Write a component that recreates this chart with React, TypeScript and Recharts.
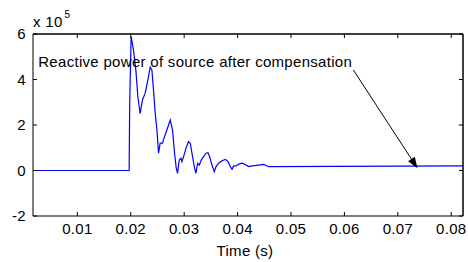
import React from 'react';
import { LineChart, Line, XAxis, YAxis, ReferenceLine, ReferenceDot, CartesianGrid } from 'recharts';

// Time (s)
const time = [
  0.0017, 0.0197, 0.0198, 0.02007, 0.02051, 0.02096, 0.02133, 0.02176, 0.02219, 0.0227,
  0.02321, 0.02364, 0.02396, 0.02426, 0.02458, 0.0249, 0.0252, 0.02551, 0.02595, 0.02632,
  0.02677, 0.02739, 0.02782, 0.0282, 0.02852, 0.02876, 0.02908, 0.0294, 0.02959, 0.02989,
  0.03034, 0.03082, 0.03114, 0.03157, 0.03195, 0.03221, 0.03251, 0.03283, 0.0332, 0.03364,
  0.03409, 0.03446, 0.03476, 0.03521, 0.03564, 0.03596, 0.03645, 0.03709, 0.03771, 0.03821,
  0.03864, 0.03896, 0.03926, 0.03971, 0.04033, 0.04095, 0.04159, 0.04208, 0.04272, 0.04395,
  0.04489, 0.04553, 0.04583, 0.0822,
];
// Reactive power (x 10^5)
const reactive = [
  0, 0, 2.87, 5.88, 5.3, 4.4, 3.24, 2.5, 3.1, 3.4,
  3.98, 4.54, 4.42, 3.54, 2.51, 1.78, 0.76, 1.2, 1.2, 1.49,
  1.78, 2.22, 1.78, 0.76, 0.1, -0.12, 0.46, 0.54, 0.39, 0.61,
  0.98, 1.27, 1.2, 0.61, 0.1, -0.12, 0.32, 0.24, 0.46, 0.61,
  0.76, 0.78, 0.61, 0.24, -0.05, 0.17, 0.32, 0.43, 0.49, 0.39,
  0.17, 0.05, 0.2, 0.2, 0.29, 0.32, 0.24, 0.17, 0.2, 0.24,
  0.27, 0.2, 0.17, 0.2,
];
const xTicks = [0.01, 0.02, 0.03, 0.04, 0.05, 0.06, 0.07, 0.08];
const yTicks = [-2, 0, 2, 4, 6];
const xDomain = [0.0017, 0.0822];
const yDomain = [-2, 6];
const xLabel = 'Time (s)';
const annotationText = 'Reactive power of source after compensation';
const annotationPos = { t: 0.00268, q: 4.57 };
const arrowFrom = { t: 0.06167, q: 4.42 };
const arrowTo = { t: 0.07367, q: 0.1 };

const data = time.map((t, i) => ({ t, q: reactive[i] }));

const FONT = 'Arial, "Liberation Sans", Helvetica, sans-serif';
const FS = 15;
const LS = 0.3;
const TICK_LEN = 4;
const M = 7;

const isNums = (a: any[]) => a.every((v) => typeof v === 'number' && !Number.isNaN(v));

const Arrow = (props: any) => {
  const { x1, y1, x2, y2 } = props;
  if (!isNums([x1, y1, x2, y2])) return null;
  const ang = Math.atan2(y2 - y1, x2 - x1);
  const L = 11;
  const W = 4;
  const bx = x2 - L * Math.cos(ang);
  const by = y2 - L * Math.sin(ang);
  const px = -Math.sin(ang) * W;
  const py = Math.cos(ang) * W;
  return (
    <g>
      <line x1={x1} y1={y1} x2={bx} y2={by} stroke="#000" strokeWidth={1} />
      <polygon points={`${x2},${y2} ${bx + px},${by + py} ${bx - px},${by - py}`} fill="#000" />
    </g>
  );
};

// short inward tick marks at both ends of a full-span segment
const TickMarks = (props: any) => {
  const { x1, y1, x2, y2 } = props;
  if (!isNums([x1, y1, x2, y2])) return null;
  if (Math.abs(x1 - x2) < 0.5) {
    const top = Math.min(y1, y2);
    const bot = Math.max(y1, y2);
    return (
      <g>
        <line x1={x1} x2={x1} y1={top} y2={top + TICK_LEN} stroke="#000" strokeWidth={1} />
        <line x1={x1} x2={x1} y1={bot} y2={bot - TICK_LEN} stroke="#000" strokeWidth={1} />
      </g>
    );
  }
  const left = Math.min(x1, x2);
  const right = Math.max(x1, x2);
  return (
    <g>
      <line x1={left} x2={left + TICK_LEN} y1={y1} y2={y1} stroke="#000" strokeWidth={1} />
      <line x1={right} x2={right - TICK_LEN} y1={y1} y2={y1} stroke="#000" strokeWidth={1} />
    </g>
  );
};

const AnnotationText = (props: any) => {
  const { cx, cy } = props;
  return (
    <text x={cx} y={cy} textAnchor="start" fontSize={FS} letterSpacing={LS} fontFamily={FONT} fill="#000">
      {annotationText}
    </text>
  );
};

const ExponentLabel = (props: any) => {
  const vb = props.viewBox || { x: 0, y: 34, width: 33 };
  const x = vb.x + vb.width;
  const y = vb.y - 7;
  return (
    <text x={x} y={y} fontSize={FS} letterSpacing={LS} fontFamily={FONT} fill="#000">
      <tspan>x 10</tspan>
      <tspan dx={2} dy={-9} fontSize={10}>5</tspan>
    </text>
  );
};

const XLabel = (props: any) => {
  const vb = props.viewBox || { x: 33, y: 216, width: 430, height: 46 };
  return (
    <text x={vb.x + vb.width / 2 - 3} y={vb.y + 40} textAnchor="middle" fontSize={FS} letterSpacing={LS} fontFamily={FONT} fill="#000">
      {xLabel}
    </text>
  );
};

const BottomTick = (props: any) => {
  const { x, y, payload } = props;
  return (
    <text x={x} y={y} dy="0.71em" textAnchor="middle" fontSize={FS} letterSpacing={LS} fontFamily={FONT} fill="#000">
      {Number(payload.value).toFixed(2)}
    </text>
  );
};

const LeftTick = (props: any) => {
  const { x, y, payload } = props;
  return (
    <text x={x} y={y} dy="0.355em" textAnchor="end" fontSize={FS} letterSpacing={LS} fontFamily={FONT} fill="#000">
      {String(payload.value)}
    </text>
  );
};

export default function App() {
  return (
    <div style={{ position: 'absolute', left: 0, top: 0, width: 468, height: 262, background: '#fff' }}>
      <LineChart width={468} height={262} data={data} margin={{ top: 34, right: 5, bottom: 0, left: 0 }}>
        <CartesianGrid
          horizontalValues={[yDomain[1]]}
          verticalValues={[xDomain[1]]}
          stroke="#000"
          strokeOpacity={1}
          strokeDasharray=""
        />
        <XAxis
          dataKey="t"
          type="number"
          scale="linear"
          domain={xDomain}
          allowDataOverflow
          ticks={xTicks}
          height={46}
          tickSize={0}
          tickMargin={M}
          tickLine={false}
          tick={<BottomTick />}
          axisLine={{ stroke: '#000' }}
          interval={0}
          label={<XLabel />}
        />
        <YAxis
          type="number"
          domain={yDomain}
          ticks={yTicks}
          allowDataOverflow
          width={33}
          tickSize={0}
          tickMargin={M}
          tickLine={false}
          tick={<LeftTick />}
          axisLine={{ stroke: '#000' }}
          interval={0}
          label={<ExponentLabel />}
        />
        <Line
          type="linear"
          dataKey="q"
          stroke="#0000ff"
          strokeWidth={1.2}
          dot={false}
          activeDot={false}
          isAnimationActive={false}
        />
        <ReferenceLine
          segment={[
            { x: arrowFrom.t, y: arrowFrom.q },
            { x: arrowTo.t, y: arrowTo.q },
          ]}
          shape={<Arrow />}
          ifOverflow="visible"
        />
        <ReferenceLine y={yDomain[1]} stroke="#000" strokeWidth={1} ifOverflow="visible" />
        <ReferenceLine x={xDomain[1]} stroke="#000" strokeWidth={1} ifOverflow="visible" />
        {xTicks.map((t) => (
          <ReferenceLine
            key={`xt${t}`}
            segment={[
              { x: t, y: yDomain[0] },
              { x: t, y: yDomain[1] },
            ]}
            shape={<TickMarks />}
            ifOverflow="visible"
          />
        ))}
        {yTicks.map((v) => (
          <ReferenceLine
            key={`yt${v}`}
            segment={[
              { x: xDomain[0], y: v },
              { x: xDomain[1], y: v },
            ]}
            shape={<TickMarks />}
            ifOverflow="visible"
          />
        ))}
        <ReferenceDot
          x={annotationPos.t}
          y={annotationPos.q}
          r={0}
          shape={<AnnotationText />}
          ifOverflow="visible"
        />
      </LineChart>
    </div>
  );
}
